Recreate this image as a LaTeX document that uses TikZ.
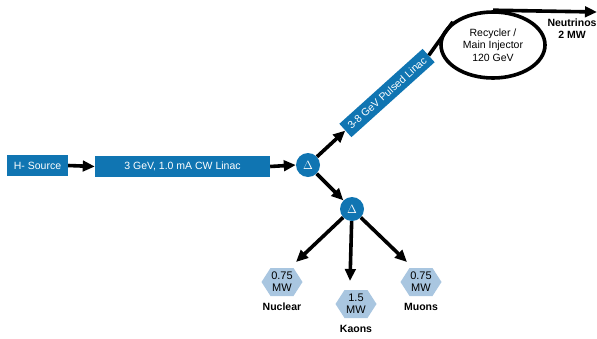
\documentclass[tikz,border=0pt]{standalone}
\usepackage{fontspec}
\setmainfont{Liberation Sans}
\usetikzlibrary{arrows.meta,shapes.geometric}
\definecolor{fblue}{HTML}{1075B2}
\definecolor{hexblue}{HTML}{A9C6E0}
\begin{document}
\begin{tikzpicture}[x=1pt,y=-1pt,
  bluebox/.style={fill=fblue, text=white, inner sep=0pt, font=\fontsize{10.5}{12}\selectfont},
  delta/.style={circle, fill=fblue, text=white, minimum size=24pt, inner sep=0pt, font=\fontsize{12}{14}\selectfont},
  arr/.style={line width=3.6pt, -{Triangle[length=12pt,width=10.5pt]}},
  heavy/.style={line width=3.6pt},
  hexlabel/.style={align=center, inner sep=0pt, font=\fontsize{11}{12}\selectfont},
  tag/.style={inner sep=0pt, font=\bfseries\fontsize{10.5}{12}\selectfont},
  ringtext/.style={align=center, inner sep=0pt, font=\fontsize{10.5}{12.5}\selectfont}]
\useasboundingbox (0,0) rectangle (597,338);

% boxes
\node[bluebox, minimum width=61pt, minimum height=21pt] (src) at (37.5,165.5) {H- Source};
\node[bluebox, minimum width=175pt, minimum height=21pt] (cw) at (182.5,166.5) {3 GeV, 1.0 mA CW Linac};
\node[delta] (d1) at (308,165) {$\Delta$};
\node[delta] (d2) at (352,209) {$\Delta$};
\node[bluebox, minimum width=112pt, minimum height=18pt, rotate=42] (pl) at (387,93) {3-8 GeV Pulsed Linac};
\node[ellipse, draw, line width=3.6pt, minimum width=104pt, minimum height=66pt, inner sep=0pt] (ring) at (493,45) {};
\node[ringtext] (rt) at (493,45) {Recycler /\\Main Injector\\120 GeV};

% connectors
\draw[arr] (src.east) -- (cw.west);
\draw[arr] (cw.east) -- (d1.west);
\draw[arr] (d1) -- (pl.west);
\draw[arr] (d1) -- (d2);
\draw[heavy] (pl.east) -- (ring.150);
\coordinate (nu) at (597,12);
\draw[arr] (ring.north) -- (nu);
\node[tag, align=center] (nt) at (572,29) {Neutrinos\\2 MW};

% hexagons
\foreach \n/\x/\y/\t/\l in {hn/282/282/0.75/Nuclear, hk/356/304/1.5/Kaons, hm/421/282/0.75/Muons}{
  \fill[hexblue, shift={(\x,\y)}] (-20.5,0) -- (-11.5,-14) -- (11.5,-14) -- (20.5,0) -- (11.5,14) -- (-11.5,14) -- cycle;
  \node[hexlabel] (\n) at (\x,\y) {\t\\MW};
  \node[tag] (\n l) at (\x,\y+25) {\l};
}
\coordinate (t1) at (296,262);
\coordinate (t2) at (350,281);
\coordinate (t3) at (407,262);
\draw[arr] (d2) -- (t1);
\draw[arr] (d2) -- (t2);
\draw[arr] (d2) -- (t3);
\end{tikzpicture}
\end{document}
